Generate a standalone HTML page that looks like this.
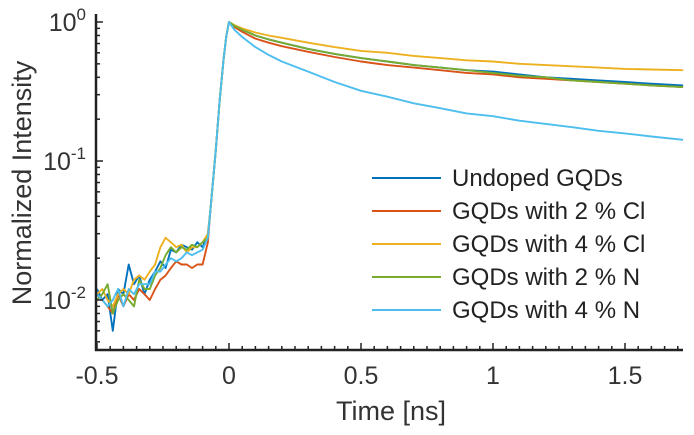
<!DOCTYPE html>
<html><head><meta charset="utf-8"><style>
body{margin:0;background:#fff}
svg{display:block;font-family:"Liberation Sans",sans-serif}
</style></head><body>
<svg id="c" width="694" height="435"></svg>
<script>
const preT=[-0.5,-0.48,-0.46,-0.44,-0.42,-0.40,-0.38,-0.36,-0.34,-0.32,-0.30,-0.28,-0.26,-0.24,-0.22,-0.20,-0.18,-0.16,-0.14,-0.12,-0.10,-0.08];
const riseT=[-0.07,-0.05,-0.035,-0.02,-0.01,0];
const decT=[0.02,0.05,0.1,0.15,0.2,0.3,0.4,0.5,0.6,0.7,0.8,0.9,1.0,1.1,1.2,1.3,1.4,1.5,1.6,1.72];
const riseV=[0.045,0.12,0.28,0.55,0.8,1];
const undoped=[.012,.010,.011,.006,.012,.011,.018,.013,.015,.011,.014,.016,.019,.017,.023,.022,.025,.024,.023,.026,.024,.030,
 .94,.88,.8,.75,.71,.64,.59,.55,.52,.49,.47,.45,.44,.42,.4,.39,.38,.37,.36,.35];
const cl2=[.011,.010,.009,.008,.011,.009,.011,.010,.012,.011,.010,.012,.014,.015,.017,.019,.018,.018,.017,.018,.018,.026,
 .92,.85,.76,.71,.67,.61,.56,.52,.49,.47,.45,.43,.42,.4,.39,.38,.37,.36,.35,.34];
const cl4=[.011,.012,.010,.009,.011,.012,.011,.014,.015,.014,.016,.018,.024,.028,.026,.024,.025,.022,.024,.024,.026,.030,
 .95,.9,.84,.8,.77,.71,.66,.62,.6,.57,.55,.53,.52,.5,.49,.48,.47,.46,.455,.45];
const n2=[.010,.011,.013,.008,.010,.011,.010,.009,.014,.012,.012,.015,.017,.021,.024,.022,.024,.023,.025,.024,.026,.028,
 .94,.88,.8,.75,.71,.64,.59,.55,.52,.49,.47,.45,.43,.41,.4,.38,.37,.36,.35,.34];
const n4=[.011,.010,.009,.010,.012,.009,.012,.011,.013,.013,.013,.016,.016,.018,.020,.019,.020,.022,.021,.022,.023,.028,
 .88,.78,.66,.58,.52,.44,.37,.32,.29,.26,.24,.22,.21,.195,.185,.175,.165,.158,.15,.142];
const seriesNames=["Undoped GQDs","GQDs with 2 % Cl","GQDs with 4 % Cl","GQDs with 2 % N","GQDs with 4 % N"];
const seriesData=[undoped,cl2,cl4,n2,n4];
const colors=["#0072BD","#D95319","#EDB120","#77AC30","#4DBEEE"];
const xTicks=[-0.5,0,0.5,1,1.5];
const xTickLabels=["-0.5","0","0.5","1","1.5"];
const yTicks=[-2,-1,0];

const NS="http://www.w3.org/2000/svg";
const svg=document.getElementById('c');
const X0=96,Y0=350,XR=683,YT=14;
const x=t=>229+t*264;
const y=v=>22-Math.log10(v)*139;
function el(tag,attrs,parent){const e=document.createElementNS(NS,tag);for(const k in attrs)e.setAttribute(k,attrs[k]);(parent||svg).appendChild(e);return e;}

const allT=preT.concat(riseT,decT);
seriesData.forEach((d,i)=>{
  const vals=d.slice(0,preT.length).concat(riseV,d.slice(preT.length));
  const pts=allT.map((t,j)=>x(t).toFixed(1)+","+y(vals[j]).toFixed(1)).join(" ");
  const p=el('polyline',{points:pts,fill:'none',stroke:colors[i],'stroke-width':1.9,'stroke-linejoin':'round'});
  
  
});

const ax=el('g',{stroke:'#222','stroke-width':2.5,fill:'none'});


el('line',{x1:X0,y1:YT,x2:X0,y2:Y0+1},ax);
el('line',{x1:X0-1,y1:Y0,x2:XR,y2:Y0},ax);
const tk=el('g',{stroke:'#222','stroke-width':1.5});
for(let t=-0.5;t<=1.72;t+=0.05){const m=Math.abs(t*2-Math.round(t*2))<1e-6;el('line',{x1:x(t),y1:Y0,x2:x(t),y2:Y0-(m?7:4)},tk);}
for(let d=-3;d<=0;d++){for(let k=1;k<10;k++){const v=k*Math.pow(10,d);const yy=y(v);if(yy>Y0||yy<YT)continue;el('line',{x1:X0,y1:yy,x2:X0+(k==1?7:4),y2:yy},tk);}}
xTicks.forEach((t,i)=>{const e=el('text',{x:x(t),y:Y0+34,'text-anchor':'middle','font-size':25,fill:'#333'});e.textContent=xTickLabels[i];
 });
yTicks.forEach(p=>{const e=el('text',{x:X0-10,y:y(Math.pow(10,p))+9,'text-anchor':'end','font-size':25,fill:'#333'});
 e.innerHTML='10<tspan dy="-11" font-size="17">'+p+'</tspan>';
 });
let t=el('text',{x:391,y:420,'text-anchor':'middle','font-size':27,fill:'#333'});t.textContent='Time [ns]';

t=el('text',{x:0,y:0,'text-anchor':'middle','font-size':27,fill:'#333',transform:'translate(31,183) rotate(-90)'});t.textContent='Normalized Intensity';


seriesNames.forEach((n,i)=>{
  const g=el('g',{});
  
  
  const yy=178+i*33;
  el('line',{x1:372,y1:yy,x2:441,y2:yy,stroke:colors[i],'stroke-width':1.9},g);
  const tx=el('text',{x:452,y:yy+8,'font-size':24,fill:'#222'},g);tx.textContent=n;
});
</script>
</body></html>
